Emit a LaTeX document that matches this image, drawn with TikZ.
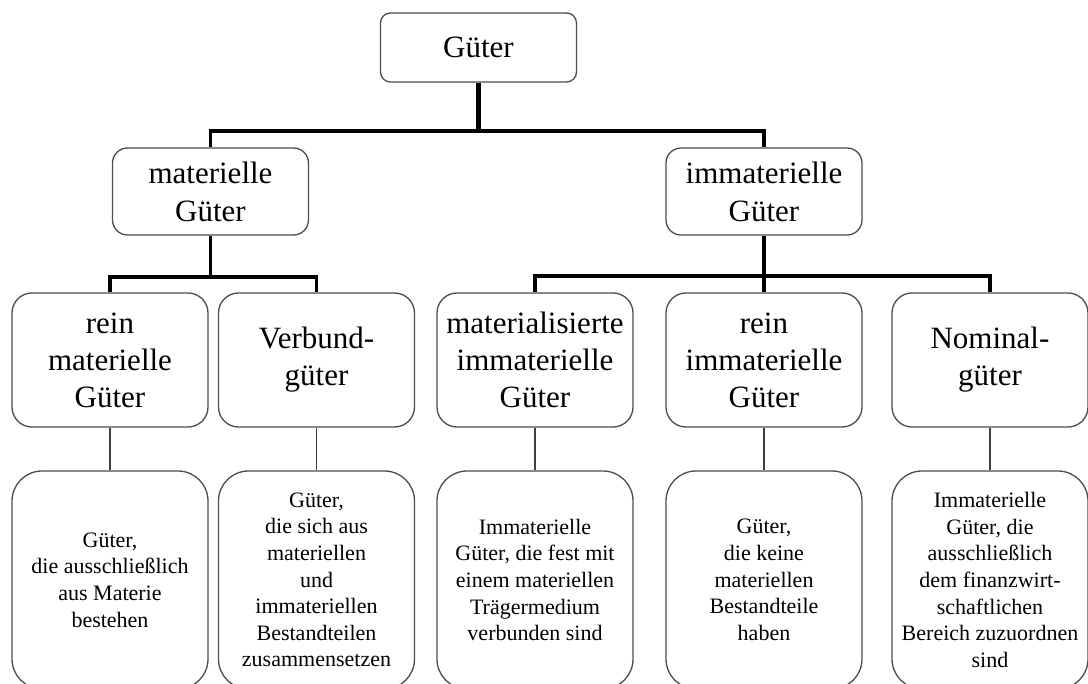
\documentclass[tikz,border=0pt]{standalone}
\usepackage{fontspec}
\setmainfont{Liberation Serif}
\usetikzlibrary{positioning}

\tikzset{
  kasten/.style={draw=black!70, line width=1.3pt, align=center, inner sep=0pt, minimum width=196pt},
  oben/.style={kasten, rounded corners=10pt, minimum height=69pt, font=\fontsize{31}{37}\selectfont},
  mitte/.style={kasten, rounded corners=15pt, minimum height=87pt, font=\fontsize{31}{38}\selectfont},
  art/.style={kasten, rounded corners=20pt, minimum height=134pt, font=\fontsize{31}{37}\selectfont},
  erkl/.style={kasten, rounded corners=30pt, minimum height=218pt, font=\fontsize{22}{26.6}\selectfont},
  stamm/.style={line width=4.5pt},
  ast/.style={line width=3.2pt},
  zweig/.style={line width=1.3pt, draw=black!75},
}

\begin{document}
\begin{tikzpicture}[x=1pt,y=1pt,yscale=-1,xscale=1]
\useasboundingbox (0,0) rectangle (1088,684);

% Ebene 1
\node[oben] (gut) at (478.5,47.5) {Güter};

% Ebene 2
\node[mitte] (mat) at (210.5,191.5) {materielle\\Güter};
\node[mitte] (imm) at (764,191.5) {immaterielle\\Güter};

% Ebene 3
\node[art] (rm) at (110,360) {rein\\materielle\\Güter};
\node[art] (vg) at (316.5,360) {Verbund-\\güter};
\node[art] (mig) at (535,360) {materialisierte\\immaterielle\\Güter};
\node[art] (rig) at (764,360) {rein\\immaterielle\\Güter};
\node[art] (nom) at (990,360) {Nominal-\\güter};

% Ebene 4
\node[erkl] (rm-e) at (110,580) {Güter,\\die ausschließlich\\aus Materie\\bestehen};
\node[erkl] (vg-e) at (316.5,580) {Güter,\\die sich aus\\materiellen\\und\\immateriellen\\Bestandteilen\\zusammensetzen};
\node[erkl] (mig-e) at (535,580) {Immaterielle\\Güter, die fest mit\\einem materiellen\\Trägermedium\\verbunden sind};
\node[erkl] (rig-e) at (764,580) {Güter,\\die keine\\materiellen\\Bestandteile\\haben};
\node[erkl] (nom-e) at (990,580) {Immaterielle\\Güter, die\\ausschließlich\\dem finanzwirt-\\schaftlichen\\Bereich zuzuordnen\\sind};

% Verbindungen
\coordinate (b1) at (478.5,131);
\coordinate (b2) at (mat.south |- 0,277);
\coordinate (b3) at (imm.south |- 0,276);
\draw[stamm] (gut.south) -- (b1);
\draw[ast] (b1) -| (mat.north);
\draw[ast] (b1) -| (imm.north);
\draw[ast] (mat.south) -- (b2) -| (rm.north);
\draw[ast] (b2) -| (vg.north);
\draw[ast] (imm.south) -- (b3) -| (mig.north);
\draw[ast] (b3) -| (rig.north);
\draw[ast] (b3) -| (nom.north);
\foreach \k in {rm,vg,mig,rig,nom}
  \draw[zweig] (\k) -- (\k-e);

\end{tikzpicture}
\end{document}
